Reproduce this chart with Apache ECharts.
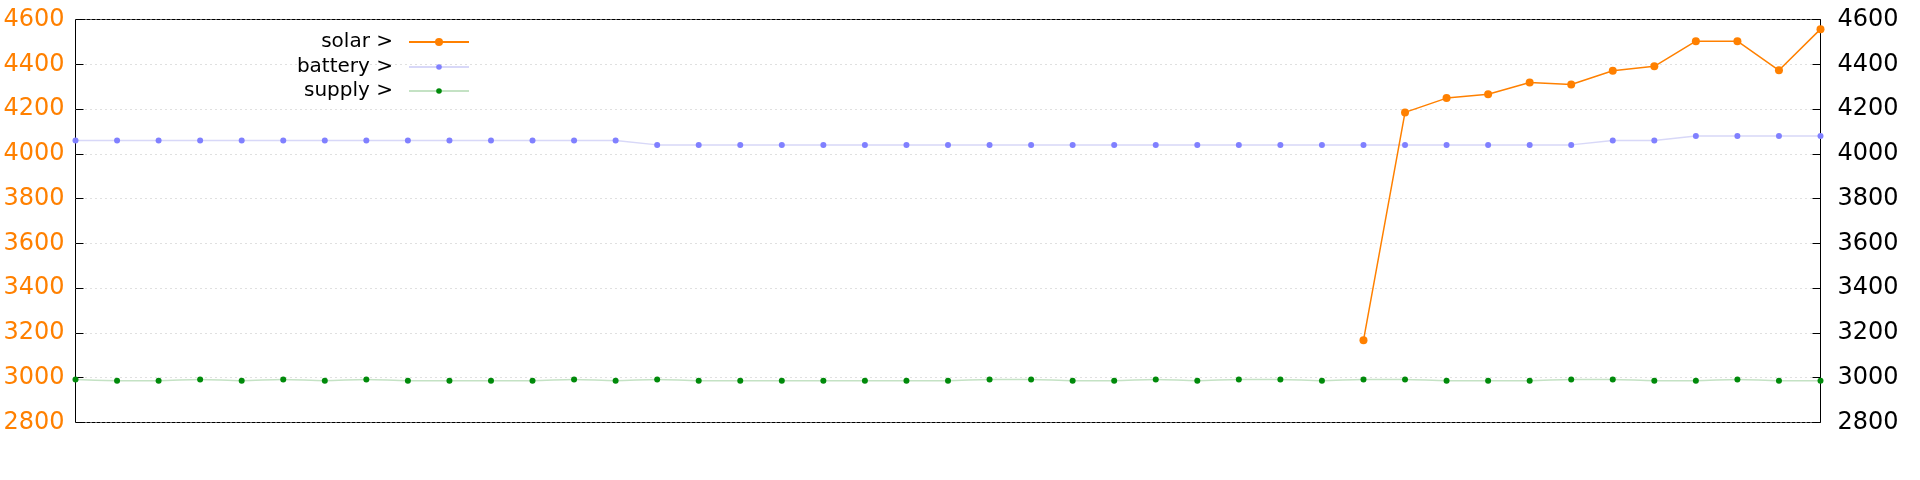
<!DOCTYPE html>
<html>
<head>
<meta charset="utf-8">
<script src="https://cdn.jsdelivr.net/npm/echarts@6/dist/echarts.min.js"></script>
<style>
html,body{margin:0;padding:0;background:#fff;}
#chart{width:1920px;height:480px;}
</style>
</head>
<body>
<div id="chart"></div>
<script>
// sample index along the x axis (no labels shown in the reference)
var categories = ['0','1','2','3','4','5','6','7','8','9','10','11','12','13','14','15','16','17','18','19','20','21','22','23','24','25','26','27','28','29','30','31','32','33','34','35','36','37','38','39','40','41','42'];

var solar = [null,null,null,null,null,null,null,null,null,null,null,null,null,null,null,null,null,null,null,null,null,null,null,null,null,null,null,null,null,null,null,
  3167,4185,4249,4266,4319,4310,4371,4391,4503,4503,4373,4557];

var battery = [4060,4060,4060,4060,4060,4060,4060,4060,4060,4060,4060,4060,4060,4060,
  4040,4040,4040,4040,4040,4040,4040,4040,4040,4040,4040,4040,4040,4040,4040,4040,4040,4040,4040,4040,4040,4040,4040,
  4060,4060,4080,4080,4080,4080];

var supply = [2992,2987,2987,2992,2987,2992,2987,2992,2987,2987,2987,2987,2992,2987,2992,2987,2987,2987,2987,2987,2987,2987,
  2992,2992,2987,2987,2992,2987,2992,2992,2987,2992,2992,2987,2987,2987,2992,2992,2987,2987,2992,2987,2987];

var yTicks = ['2800','3000','3200','3400','3600','3800','4000','4200','4400','4600'];

var FONT = 'DejaVu Sans';
var chart = echarts.init(document.getElementById('chart'), null, {renderer:'canvas'});

function legendFor(name, top, ih){
  return {
    data:[name], right:1450, top:top, orient:'vertical', align:'right',
    itemWidth:60, itemHeight:ih, padding:0, selectedMode:false,
    textStyle:{fontFamily:FONT, fontSize:20, color:'#000', lineHeight:20, padding:[0,11,0,0]}
  };
}
function fmt(v){ return String(v); }

chart.setOption({
  animation:false,
  backgroundColor:'#fff',
  grid:{left:75.5, right:99.5, top:19.5, bottom:57.5, show:true, borderColor:'#000', borderWidth:1, backgroundColor:'transparent'},
  legend:[legendFor('solar >',32,10), legendFor('battery >',57,7), legendFor('supply >',81,7)],
  xAxis:{type:'category', data:categories, boundaryGap:false,
    axisLine:{show:false}, axisTick:{show:false}, axisLabel:{show:false}, splitLine:{show:false}},
  yAxis:[
    {type:'value', min:Number(yTicks[0]), max:Number(yTicks[yTicks.length-1]), interval:200, position:'left',
     axisLine:{show:false}, axisTick:{show:true, inside:true, length:8, lineStyle:{color:'#000'}},
     axisLabel:{color:'#ff8000', fontFamily:FONT, fontSize:24, margin:11, formatter:fmt},
     splitLine:{show:true, lineStyle:{color:'#c0c0c0', type:[1,4], width:1}}},
    {type:'value', min:Number(yTicks[0]), max:Number(yTicks[yTicks.length-1]), interval:200, position:'right',
     axisLine:{show:false}, axisTick:{show:true, inside:true, length:8, lineStyle:{color:'#000'}},
     axisLabel:{color:'#000', fontFamily:FONT, fontSize:24, margin:17, formatter:fmt},
     splitLine:{show:false}}
  ],
  series:[
    {name:'solar >', type:'line', data:solar, yAxisIndex:0, symbol:'circle', symbolSize:8, showAllSymbol:true,
     lineStyle:{color:'#ff8000', width:1.5}, itemStyle:{color:'#ff8000'}, z:5},
    {name:'battery >', type:'line', data:battery, yAxisIndex:0, symbol:'circle', symbolSize:6, showAllSymbol:true,
     lineStyle:{color:'#d8d8f8', width:1.5}, itemStyle:{color:'#8080ff'}, z:4},
    {name:'supply >', type:'line', data:supply, yAxisIndex:0, symbol:'circle', symbolSize:6, showAllSymbol:true, smooth:0.3,
     lineStyle:{color:'#c4e2c4', width:1.5}, itemStyle:{color:'#008a0a'}, z:3}
  ]
});
</script>
</body>
</html>
